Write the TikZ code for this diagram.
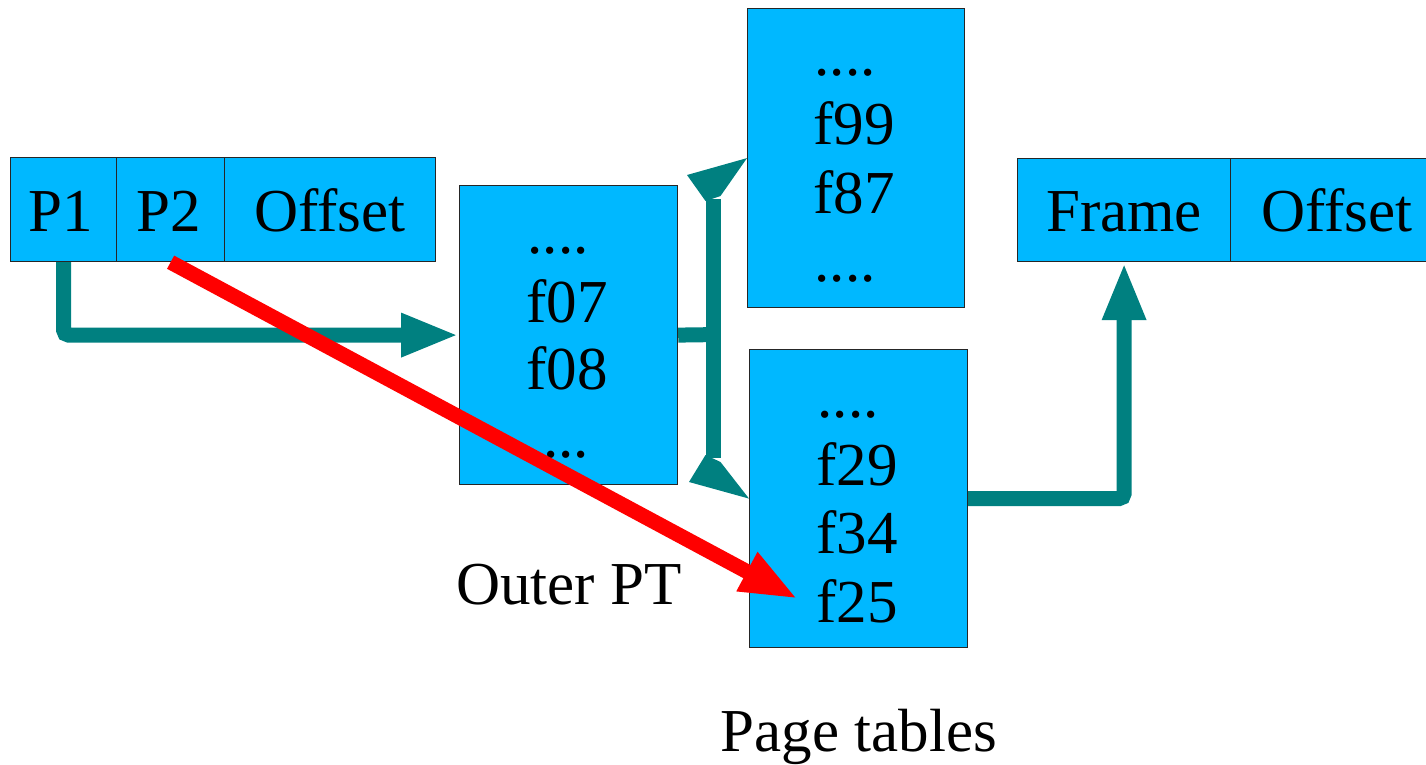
\documentclass[tikz,border=0pt]{standalone}
\usepackage{fontspec}
\setmainfont{Liberation Serif}
\usetikzlibrary{arrows.meta}
\definecolor{boxblue}{RGB}{0,184,255}
\definecolor{tealc}{RGB}{0,128,128}
\begin{document}
\begin{tikzpicture}[x=1pt,y=-1pt,
  cell/.style={draw=black!85,line width=1.2pt,fill=boxblue,inner sep=0pt,anchor=north west},
  lbl/.style={font=\fontsize{61}{70}\selectfont,anchor=base,inner sep=0pt},
  tealline/.style={draw=tealc,line width=15pt},
  tealarrow/.style={tealline,rounded corners=5pt,-{Triangle[length=58pt,width=40pt]}},
  redarrow/.style={draw=red,line width=15pt,-{Triangle[length=58pt,width=40pt]}}]
\useasboundingbox (0,0) rectangle (1426,765);

% address boxes
\node[cell,minimum width=106pt,minimum height=104pt] (p1) at (10,157) {};
\node[cell,minimum width=108pt,minimum height=104pt] (p2) at (116,157) {};
\node[cell,minimum width=211pt,minimum height=104pt] (off1) at (224,157) {};
\node[cell,minimum width=213pt,minimum height=103pt] (frame) at (1017,158) {};
\node[cell,minimum width=211pt,minimum height=103pt] (off2) at (1230,158) {};

% tables
\node[cell,minimum width=218pt,minimum height=299pt] (outer) at (459,185) {};
\node[cell,minimum width=217pt,minimum height=299pt] (upper) at (747,8) {};
\node[cell,minimum width=218pt,minimum height=298pt] (lower) at (749,349) {};

% texts
\node[lbl] (tp1) at (61,231) {P1};
\node[lbl] (tp2) at (169,231) {P2};
\node[lbl] (toff1) at (330,231) {Offset};
\node[lbl] (tframe) at (1124,231) {Frame};
\node[lbl] (toff2) at (1337,231) {Offset};

\node[lbl] (o1) at (558,253) {....};
\node[lbl] (o2) at (567,322) {f07};
\node[lbl] (o3) at (567,389) {f08};
\node[lbl] (o4) at (566,457) {...};

\node[lbl] (u1) at (845,76) {....};
\node[lbl] (u2) at (854,145) {f99};
\node[lbl] (u3) at (854,213) {f87};
\node[lbl] (u4) at (845,281) {....};

\node[lbl] (l1) at (848,417) {....};
\node[lbl] (l2) at (857,485) {f29};
\node[lbl] (l3) at (857,553) {f34};
\node[lbl] (l4) at (857,622) {f25};

\node[lbl] (outerlbl) at (569,604) {Outer PT};
\node[lbl] (pagelbl) at (859,751) {Page tables};

% teal connectors
\draw[tealarrow] (p1.south) |- (outer.west);

\coordinate (stemtop) at (713,199);
\coordinate (stembot) at (713,458);
\draw[tealline] (outer.east) -- (720.5,334.5);
\draw[tealline] (stemtop) -- (stembot);
\fill[tealc] (705.5,201) -- (687,175) -- (upper.west) -- (720.5,196) -- cycle;
\fill[tealc] (705.5,455) -- (720.5,462) -- (lower.west) -- (689,482) -- cycle;

\draw[tealarrow] (lower.east) -| (frame.south);

% red arrow
\coordinate (redtip) at (798,599);
\draw[redarrow] (p2.south) -- (redtip);
\end{tikzpicture}
\end{document}
